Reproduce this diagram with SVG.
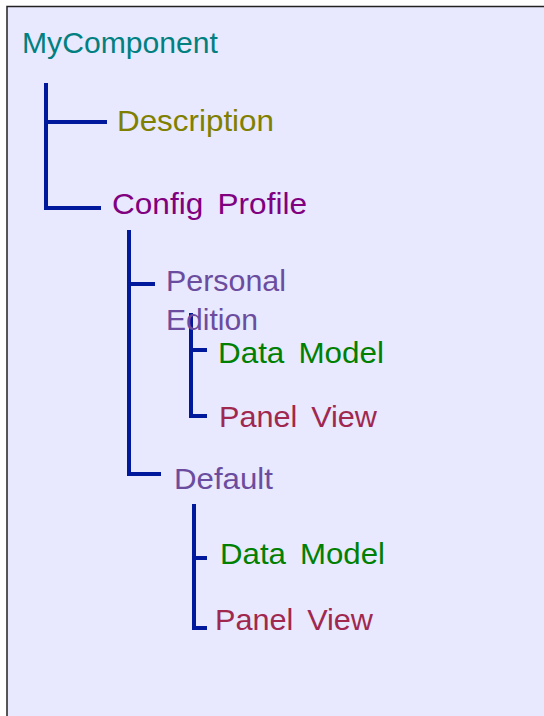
<svg xmlns="http://www.w3.org/2000/svg" width="544" height="716" viewBox="0 0 544 716">
<style>
text{font-family:"Liberation Sans",Arial,sans-serif;font-size:29px}
.w{word-spacing:5px}
.c{fill:none;stroke:#00189C;stroke-width:4;stroke-linecap:butt;stroke-linejoin:miter}
.root{fill:#008080}.desc{fill:#808000}.cfg{fill:#800080}.prof{fill:#6B4C9E}.dm{fill:#008000}.pv{fill:#A0284F}
</style>
<rect width="544" height="716" fill="#ffffff"/>
<rect x="7" y="6.5" width="600" height="800" fill="#E8E8FF" stroke="#222222" stroke-width="1.5"/>
<g id="connectors">
<path class="c" d="M46 83V208H101M46 122H107"/>
<path class="c" d="M129 230V474H161M129 284H155"/>
<path class="c" d="M191 313V416H207M191 350H207"/>
<path class="c" d="M194 504V628H207M194 558H207"/>
</g>
<g id="n_mycomponent"><text class="root" x="22" y="53" textLength="196" lengthAdjust="spacingAndGlyphs">MyComponent</text></g>
<g id="n_description"><text class="desc" x="117" y="131" textLength="157" lengthAdjust="spacingAndGlyphs">Description</text></g>
<g id="n_config"><text class="cfg w" x="112" y="214" textLength="195" lengthAdjust="spacingAndGlyphs">Config Profile</text></g>
<g id="n_personal"><text class="prof" x="166" y="291" textLength="120" lengthAdjust="spacingAndGlyphs">Personal</text><text class="prof" x="166" y="330" textLength="92" lengthAdjust="spacingAndGlyphs">Edition</text></g>
<g id="n_dm1"><text class="dm w" x="218" y="363" textLength="166" lengthAdjust="spacingAndGlyphs">Data Model</text></g>
<g id="n_pv1"><text class="pv w" x="219" y="427" textLength="158" lengthAdjust="spacingAndGlyphs">Panel View</text></g>
<g id="n_default"><text class="prof" x="174" y="489" textLength="99" lengthAdjust="spacingAndGlyphs">Default</text></g>
<g id="n_dm2"><text class="dm w" x="220" y="564" textLength="165" lengthAdjust="spacingAndGlyphs">Data Model</text></g>
<g id="n_pv2"><text class="pv w" x="215" y="630" textLength="158" lengthAdjust="spacingAndGlyphs">Panel View</text></g>
</svg>
